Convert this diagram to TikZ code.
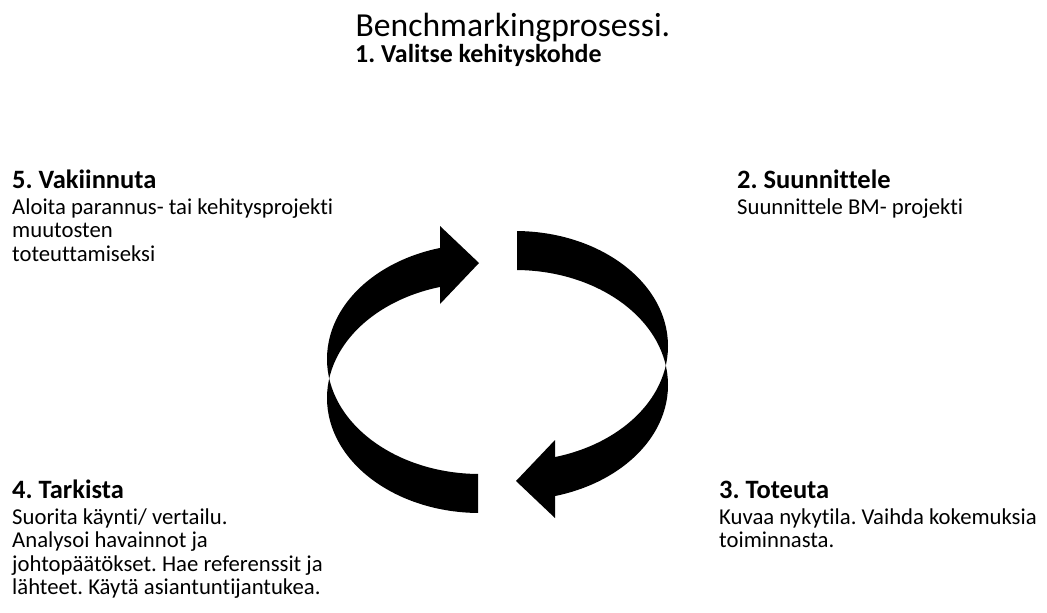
\documentclass[tikz,border=0pt]{standalone}
\usepackage{fontspec}
\setmainfont{Carlito}[Ligatures=NoCommon]
\frenchspacing
\newcommand{\tblock}[2]{\vtop{\fontsize{22.7}{23.5}\selectfont\baselineskip=23.5pt\lineskip=0pt\lineskiplimit=-100pt
\hbox{\fontsize{26.5}{26.5}\selectfont\bfseries #1}\kern2.5pt #2}}
\newcommand{\cyclearrow}{%
  \begin{scope}
    \clip (0,0) -- (441,0) -- (441,378.5) -- (478,378.5) -- (478,700) -- (0,700) -- cycle;
    \fill[arrowfill, even odd rule] (480,359) ellipse [x radius=153, y radius=115]
                                    (480,398) ellipse [x radius=153, y radius=115];
  \end{scope}
  \fill[arrowfill] (440,226) -- (479,263) -- (440,304) -- cycle;}
\begin{document}
\begin{tikzpicture}[x=1pt, y=-1pt,
  arrowfill/.style={fill=black},
  txt/.style={anchor=base west, inner sep=0pt, text=black}]
\useasboundingbox (0,0) rectangle (1047,613);
\fill[white] (0,0) rectangle (1047,613);
% title
\node[txt, font=\fontsize{33.6}{40}\selectfont] (title) at (355.5,36.7) {Benchmarkingprosessi.};
\node[txt, font=\fontsize{25.9}{30}\selectfont\bfseries] (step1) at (355,62.7) {1. Valitse kehityskohde};
% blocks
\node[txt] (step5) at (12,188) {\tblock{5. Vakiinnuta}{\hbox{Aloita parannus- tai kehitysprojekti}\hbox{muutosten}\hbox{toteuttamiseksi}}};
\node[txt] (step2) at (737,188) {\tblock{2. Suunnittele}{\hbox{Suunnittele BM- projekti}}};
\node[txt] (step4) at (12,498) {\tblock{4. Tarkista}{\hbox{Suorita käynti/ vertailu.}\hbox{Analysoi havainnot ja}\hbox{johtopäätökset. Hae referenssit ja}\hbox{lähteet. Käytä asiantuntijantukea.}}};
\node[txt] (step3) at (719,498) {\tblock{3. Toteuta}{\hbox{Kuvaa nykytila. Vaihda kokemuksia}\hbox{toiminnasta.}}};
% arrows
\cyclearrow
\begin{scope}[rotate around={180:(497.5,372)}]
  \cyclearrow
\end{scope}
\end{tikzpicture}
\end{document}
